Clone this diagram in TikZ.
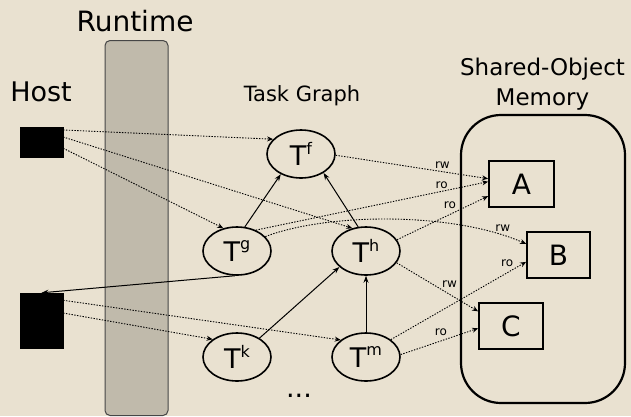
\documentclass[tikz,border=0pt]{standalone}
\usepackage{fontspec}
\setmainfont{DejaVu Sans}
\usetikzlibrary{shapes.geometric,arrows.meta,calc}

\definecolor{paper}{RGB}{233,225,208}
\definecolor{barfill}{RGB}{192,186,171}
\definecolor{barline}{RGB}{70,70,70}

\newcommand{\fsz}[1]{\fontsize{#1}{#1}\selectfont}
\newcommand{\tsk}[1]{T\raisebox{0.42em}{\fsz{16}#1}}

\tikzset{
  task/.style={ellipse, draw, line width=1.6pt, minimum width=68pt,
    minimum height=48pt, inner sep=0pt, font=\fsz{27}},
  obj/.style={rectangle, draw, line width=1.8pt, minimum height=46pt,
    inner sep=0pt, font=\fsz{28}},
  hostblk/.style={rectangle, fill=black, draw=black, inner sep=0pt},
  title/.style={inner sep=0pt, anchor=base},
  flow/.style={line width=0.9pt, dash pattern=on 1.4pt off 1.4pt,
    -{Stealth[length=6pt,width=5pt]}},
  dep/.style={line width=1pt, -{Stealth[length=7pt,width=5pt]}},
  lbl/.style={font=\fsz{12}, inner sep=1pt}
}

\begin{document}
\begin{tikzpicture}[x=1pt,y=-1pt]
  % paper background and fixed frame
  \fill[paper] (0,0) rectangle (631,416);
  \useasboundingbox (0,0) rectangle (631,416);

  % titles
  \node[title, font=\fsz{28}] (trt) at (135,31) {Runtime};
  \node[title, font=\fsz{27}] (thost) at (41,101) {Host};
  \node[title, font=\fsz{21}] (ttg) at (302,101) {Task Graph};
  \node[title, font=\fsz{23}] (tsom) at (542.5,75) {Shared-Object};
  \node[title, font=\fsz{23}] (tmem) at (542.5,105) {Memory};

  % runtime layer
  \node[rectangle, draw=barline, fill=barfill, line width=1pt, rounded corners=5pt,
        minimum width=63pt, minimum height=375pt, inner sep=0pt] (rt) at (136.5,228) {};

  % shared-object memory container
  \node[rectangle, draw, line width=2.2pt, rounded corners=40pt,
        minimum width=164pt, minimum height=288pt, inner sep=0pt] (mem) at (543,259) {};

  % host blocks
  \node[hostblk, minimum width=43pt, minimum height=30pt] (h1) at (41.5,142) {};
  \node[hostblk, minimum width=43pt, minimum height=55pt] (h2) at (41.5,320.5) {};

  % tasks
  \node[task] (tf) at (301,154) {\tsk{f}};
  \node[task] (tg) at (237,251) {\tsk{g}};
  \node[task] (th) at (366,251) {\tsk{h}};
  \node[task] (tk) at (237,357) {\tsk{k}};
  \node[task] (tm) at (366,357) {\tsk{m}};
  \node[title, font=\fsz{27}] (dots) at (299,397) {...};

  % shared objects
  \node[obj, minimum width=65pt] (a) at (521.5,184) {A};
  \node[obj, minimum width=63pt] (b) at (558.5,255) {B};
  \node[obj, minimum width=64pt] (c) at (511,326) {C};

  % host launches tasks through the runtime
  \draw[flow] (h1.29) -- (tf.152);
  \draw[flow] (h1.13) -- (th.121);
  \draw[flow] (h1.-16) -- (tg.121);
  \draw[flow] (h2.43) -- (tm.146);
  \draw[flow] (h2.19) -- (tk.144);
  \draw[dep] (tg.265) -- (h2.north);

  % task dependencies
  \draw[dep] (tg.72) -- (tf.-135);
  \draw[dep] (th.108) -- (tf.-40);
  \draw[dep] (tk.40) -- (th.211);
  \draw[dep] (tm.north) -- (th.south);

  % object accesses
  \draw[flow] (tf.-2) -- node[lbl, pos=0.70, above=2pt] {rw} (a.171);
  \draw[flow] (tg.48) -- node[lbl, pos=0.80, above=1pt] {ro} (a.176);
  \draw[flow] (th.20) -- node[lbl, pos=0.58, above=4pt] {ro} (a.200);
  \draw[flow] (tg.27) .. controls ($(tg.27)+(63,-24)$) and ($(b.161)+(-73,-32)$) ..
        node[lbl, pos=0.9, above=2pt] {rw} (b.161);
  \draw[flow] (th.-21) -- node[lbl, pos=0.65, above=5pt] {rw} (c.156);
  \draw[flow] (tm.35) -- node[lbl, pos=0.86, above=5pt] {ro} (b.192);
  \draw[flow] (tm.4) -- node[lbl, pos=0.52, above=4pt] {ro} (c.184);
\end{tikzpicture}
\end{document}
